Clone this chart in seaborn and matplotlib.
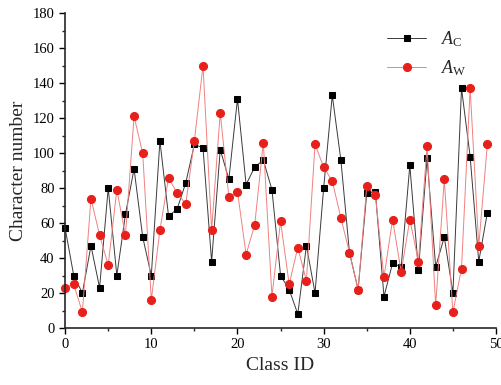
import numpy as np
import pandas as pd
import matplotlib
matplotlib.use("Agg")
import matplotlib.pyplot as plt
import seaborn as sns

class_id = list(range(50))
a_c = [57, 30, 20, 47, 23, 80, 30, 65, 91, 52,
       30, 107, 64, 68, 83, 105, 103, 38, 102, 85,
       131, 82, 92, 96, 79, 30, 22, 8, 47, 20,
       80, 133, 96, 43, 22, 77, 78, 18, 37, 35,
       93, 33, 97, 35, 52, 20, 137, 98, 38, 66]
a_w = [23, 25, 9, 74, 53, 36, 79, 53, 121, 100,
       16, 56, 86, 77, 71, 107, 150, 56, 123, 75,
       78, 42, 59, 106, 18, 61, 25, 46, 27, 105,
       92, 84, 63, 43, 22, 81, 76, 29, 62, 32,
       62, 38, 104, 13, 85, 9, 34, 137, 47, 105]

df = pd.DataFrame({"Class ID": class_id, "A_C": a_c, "A_W": a_w})

sns.set_style("ticks")
plt.rcParams["font.family"] = ["Liberation Serif", "DejaVu Serif"]
plt.rcParams["mathtext.fontset"] = "custom"
plt.rcParams["mathtext.it"] = "Liberation Serif:italic"
plt.rcParams["mathtext.rm"] = "Liberation Serif"

fig = plt.figure(figsize=(5.01, 3.85), dpi=100)
ax = fig.add_axes([0.13, 0.148, 0.86, 0.818])

sns.lineplot(data=df, x="Class ID", y="A_C", ax=ax, color="#3a3a3a", lw=0.7,
             marker="s", markersize=4.8, markerfacecolor="black",
             markeredgecolor="black", label=r"$A_\mathrm{C}$", clip_on=False)
sns.lineplot(data=df, x="Class ID", y="A_W", ax=ax, color="#f08080", lw=0.7,
             marker="o", markersize=5.8, markerfacecolor="#e8201c",
             markeredgecolor="#e8201c", label=r"$A_\mathrm{W}$", clip_on=False)

ax.set_xlim(0, 50)
ax.set_ylim(0, 180)
ax.set_xticks(range(0, 51, 10))
ax.set_xticks(range(5, 50, 10), minor=True)
ax.set_yticks(range(0, 181, 20))
ax.set_yticks(range(10, 180, 20), minor=True)
ax.tick_params(which="major", length=4, width=1, labelsize=10.5, colors="black")
ax.tick_params(which="minor", length=2.5, width=1)
for s in ["top", "right"]:
    ax.spines[s].set_visible(False)
for s in ["left", "bottom"]:
    ax.spines[s].set_linewidth(1.2)

ax.set_xlabel("Class ID", fontsize=14)
ax.set_ylabel("Character number", fontsize=14)

ax.legend(loc="upper right", frameon=False, fontsize=13, handlelength=2.2,
          bbox_to_anchor=(0.97, 1.0))

fig.savefig("out.png", dpi=100)
